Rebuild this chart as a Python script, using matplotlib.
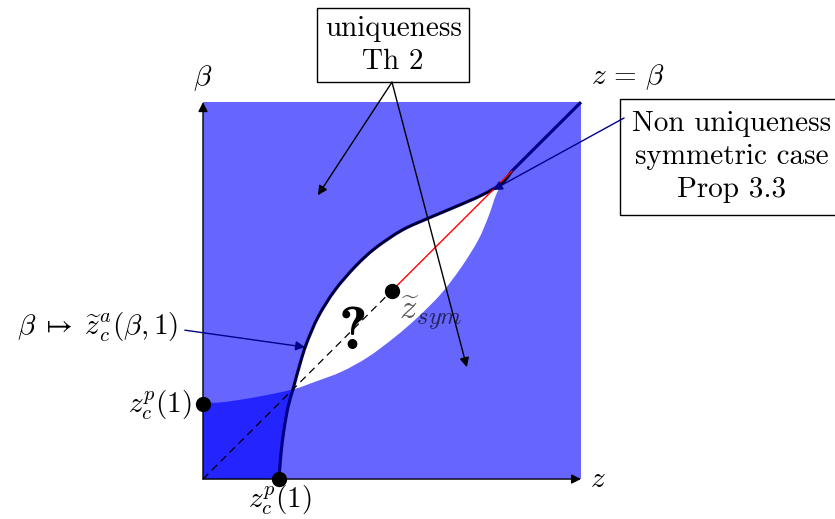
import matplotlib
matplotlib.use("Agg")
import matplotlib.pyplot as plt
from matplotlib.path import Path
from matplotlib.patches import PathPatch

plt.rcParams['mathtext.fontset'] = 'cm'
plt.rcParams['font.family'] = 'serif'
plt.rcParams['font.serif'] = ['cmr10', 'DejaVu Serif']
plt.rcParams['axes.unicode_minus'] = False

# boundary beta -> z~_c^a(beta,1) (thick curve), in (z, beta)
upper_z = [0.201, 0.206, 0.214, 0.225, 0.238, 0.257, 0.274, 0.305, 0.349, 0.402, 0.455,
           0.526, 0.596, 0.667, 0.737, 0.790, 0.817, 1.0]
upper_b = [0.0, 0.064, 0.130, 0.191, 0.238, 0.307, 0.360, 0.431, 0.501, 0.563, 0.612,
           0.660, 0.692, 0.722, 0.753, 0.784, 0.817, 1.0]
# lower boundary of the white region (and top of the dark corner)
lower_z = [0.0, 0.053, 0.143, 0.238, 0.296, 0.367, 0.437, 0.508, 0.570, 0.631, 0.684,
           0.728, 0.755, 0.777, 0.799, 0.817]
lower_b = [0.202, 0.204, 0.218, 0.238, 0.258, 0.285, 0.324, 0.377, 0.431, 0.493, 0.563,
           0.634, 0.696, 0.758, 0.793, 0.817]
i_up = 4        # crossing point in upper curve
i_meet = 16     # where both curves meet on the diagonal
i_low = 3       # crossing point in lower curve

zcp = 0.2        # z_c^p(1)
z_sym = 0.5      # symmetric point
light = '#6666FF'
dark = '#2424FF'
navy = '#000088'


def bezier_segs(xs, ys):
    # smooth cubic pieces through the points (catmull-rom)
    pts = list(zip(xs, ys))
    n = len(pts)
    segs = []
    for i in range(n - 1):
        p0 = pts[max(i - 1, 0)]
        p1 = pts[i]
        p2 = pts[i + 1]
        p3 = pts[min(i + 2, n - 1)]
        c1 = (p1[0] + (p2[0] - p0[0]) / 6, p1[1] + (p2[1] - p0[1]) / 6)
        c2 = (p2[0] - (p3[0] - p1[0]) / 6, p2[1] - (p3[1] - p1[1]) / 6)
        segs.append((p1, c1, c2, p2))
    return segs


def chain(segs, reverse=False, start=True):
    verts, codes = [], []
    if reverse:
        segs = [(s[3], s[2], s[1], s[0]) for s in segs[::-1]]
    for k, s in enumerate(segs):
        if k == 0:
            verts.append(s[0])
            codes.append(Path.MOVETO if start else Path.LINETO)
        verts += [s[1], s[2], s[3]]
        codes += [Path.CURVE4] * 3
    return verts, codes


up_segs = bezier_segs(upper_z[:i_meet + 1], upper_b[:i_meet + 1])
low_segs = bezier_segs(lower_z, lower_b)

fig = plt.figure(figsize=(8.35, 5.19), dpi=100)
ax = fig.add_axes([0, 0, 1, 1])
ax.set_xlim(-0.537, 1.672)
ax.set_ylim(-0.106, 1.271)
ax.axis('off')

# regions
ax.fill([0, 1, 1, 0], [0, 0, 1, 1], color=light, lw=0)

v1, c1 = chain(up_segs[:i_up])
v2, c2 = chain(low_segs[:i_low], reverse=True, start=False)
dv = [(0, 0)] + v1 + v2 + [(0, 0)]
dc = [Path.MOVETO] + [Path.LINETO] + c1[1:] + c2 + [Path.CLOSEPOLY]
ax.add_patch(PathPatch(Path(dv, dc), fc=dark, lw=0))

v1, c1 = chain(up_segs[i_up:])
v2, c2 = chain(low_segs[i_low:], reverse=True, start=False)
ax.add_patch(PathPatch(Path(v1 + v2 + [v1[0]], c1 + c2 + [Path.CLOSEPOLY]), fc='white', lw=0))

# thick boundary curve
v1, c1 = chain(up_segs)
ax.add_patch(PathPatch(Path(v1 + [(upper_z[-1], upper_b[-1])], c1 + [Path.LINETO]),
                       fc='none', ec=navy, lw=2.3, capstyle='butt'))
v1, c1 = chain(up_segs[i_up:])
ax.add_patch(PathPatch(Path(v1, c1), fc='none', ec='black', lw=1.1))

ax.plot([0, z_sym], [0, z_sym], color='black', lw=0.9, ls=(0, (6, 4)))
ax.plot([z_sym, upper_z[i_meet]], [z_sym, upper_b[i_meet]], color='red', lw=1)

# axes
arr = dict(arrowstyle='-|>', color='black', lw=1, mutation_scale=14, shrinkA=0, shrinkB=0)
ax.annotate('', xy=(1.0, 0), xytext=(0, 0), arrowprops=arr)
ax.annotate('', xy=(0, 1.0), xytext=(0, 0), arrowprops=arr)

# points
ax.plot([0, zcp, z_sym], [zcp, 0, z_sym], 'o', color='black', ms=10)

fs = 21
ax.text(0, 1.064, r'$\beta$', fontsize=fs, ha='center', va='center')
ax.text(1.045, -0.003, r'$z$', fontsize=fs, ha='center', va='center')
ax.text(1.124, 1.066, r'$z\,=\,\beta$', fontsize=fs, ha='center', va='center')
ax.text(-0.029, 0.196, r'$z_c^p(1)$', fontsize=fs, ha='right', va='center')
ax.text(0.204, -0.056, r'$z_c^p(1)$', fontsize=fs, ha='center', va='center')
ax.text(-0.066, 0.403, r'$\beta\;\mapsto\;\widetilde{z}^a_c(\beta,1)$', fontsize=fs,
        ha='right', va='center')
ax.text(0.397, 0.385, '?', fontsize=44, ha='center', va='center',
        family=['cmb10', 'DejaVu Serif'], fontweight='bold')
ax.text(0.519, 0.44, r'$\widetilde{z}_{sym}$', fontsize=25, ha='left', va='center',
        color='black', alpha=0.65)

# annotation boxes
ax.text(0.503, 1.151, 'uniqueness\nTh 2', fontsize=fs, ha='center', va='center',
        bbox=dict(boxstyle='square,pad=0.25', fc='white', ec='black', lw=1),
        linespacing=1.32)
ax.text(1.399, 0.854, 'Non uniqueness\nsymmetric case\nProp 3.3', fontsize=fs,
        ha='center', va='center', linespacing=1.32,
        bbox=dict(boxstyle='square,pad=0.42', fc='white', ec='black', lw=1))

arr2 = dict(arrowstyle='-|>', color='black', lw=1, mutation_scale=14, shrinkA=0, shrinkB=0)
ax.annotate('', xy=(0.304, 0.753), xytext=(0.5, 1.053), arrowprops=arr2)
ax.annotate('', xy=(0.698, 0.297), xytext=(0.5, 1.053), arrowprops=arr2)
arr3 = dict(arrowstyle='-|>', color=navy, lw=1, mutation_scale=14, shrinkA=0, shrinkB=0)
ax.annotate('', xy=(0.767, 0.767), xytext=(1.114, 0.958), arrowprops=arr3)
ax.annotate('', xy=(0.27, 0.35), xytext=(-0.048, 0.395), arrowprops=arr3)

fig.savefig('out.png', dpi=100)
